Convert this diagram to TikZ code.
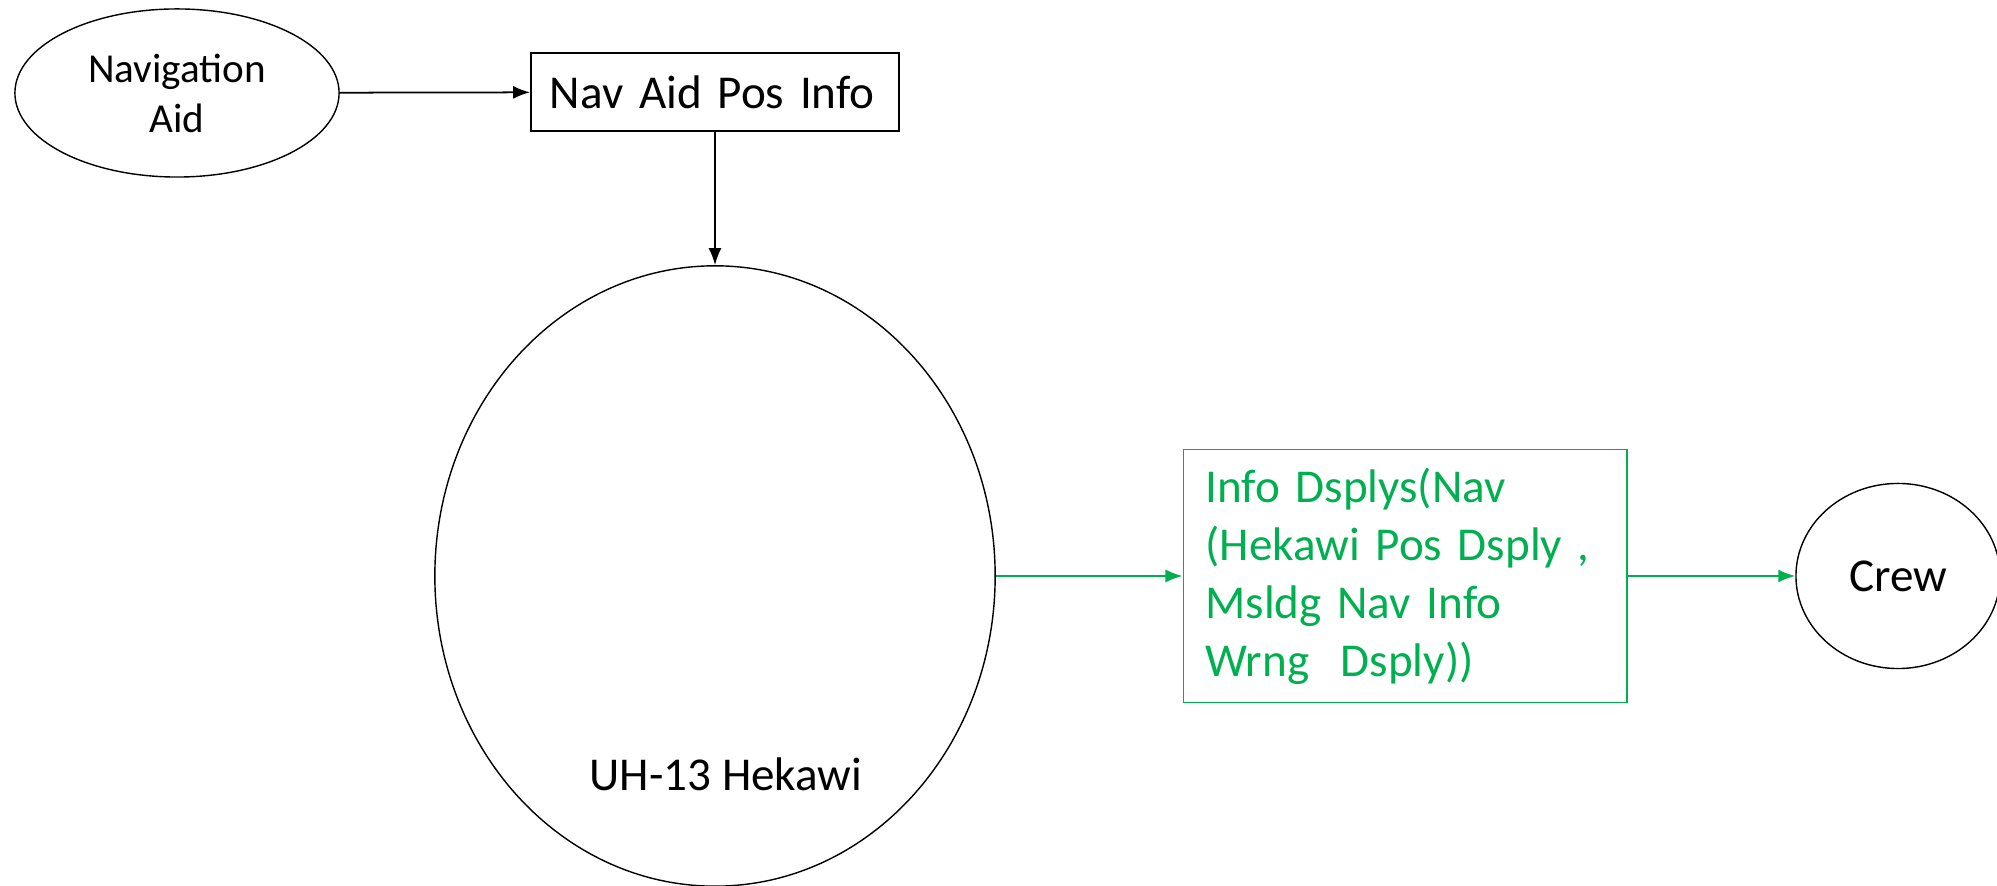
\documentclass[tikz,border=0pt]{standalone}
\usepackage{fontspec}
\setmainfont{Carlito}
\usetikzlibrary{positioning,shapes.geometric,arrows.meta}
\definecolor{dispgreen}{RGB}{0,176,80}
\tikzset{
  oval/.style={
    draw, ellipse, inner sep=0mm, line width=0.4pt, align=center
  },
  infobox/.style={
    draw, rectangle, inner xsep=1.9mm, line width=0.5pt
  },
  flow/.style={-{Latex[length=1.7mm,width=1.3mm]}, line width=0.5pt}
}

\begin{document}
\begin{tikzpicture}[x=0.01cm, y=-0.01cm]
   \useasboundingbox (0, 0) rectangle (1997, 886);

   \node[oval, minimum width=3.24cm, minimum height=1.68cm,
     font=\fontsize{11.7}{14.2}\selectfont] (navaid) at (177, 93) {Navigation\\Aid};
   \node[infobox, text width=3.30cm, minimum height=0.78cm,
     font=\fontsize{13.4}{16}\selectfont] (navpos) at (715, 92) {Nav Aid Pos Info};
   \node[oval, minimum width=5.60cm, minimum height=6.20cm] (heli) at (715, 576) {};
   \node[font=\fontsize{13.4}{16}\selectfont] (helitxt) at (726, 774) {UH-13 Hekawi};
   \node[infobox, draw=dispgreen, text=dispgreen, inner xsep=2.2mm,
     text width=3.99cm, minimum height=2.53cm,
     font=\fontsize{13.4}{16.5}\selectfont] (dsply) at (1405, 576)
     {Info Dsplys(Nav\\(Hekawi Pos Dsply ,\\Msldg Nav Info\\Wrng~ Dsply))};
   \node[oval, minimum width=2.04cm, minimum height=1.85cm,
     font=\fontsize{13.4}{16}\selectfont] (crew) at (1898, 576) {Crew};

   \draw[flow] (navaid) -- (navpos);
   \draw[flow] (navpos) -- (heli);
   \draw[flow, dispgreen] (heli) -- (dsply);
   \draw[flow, dispgreen] (dsply) -- (crew);
\end{tikzpicture}
\end{document}
